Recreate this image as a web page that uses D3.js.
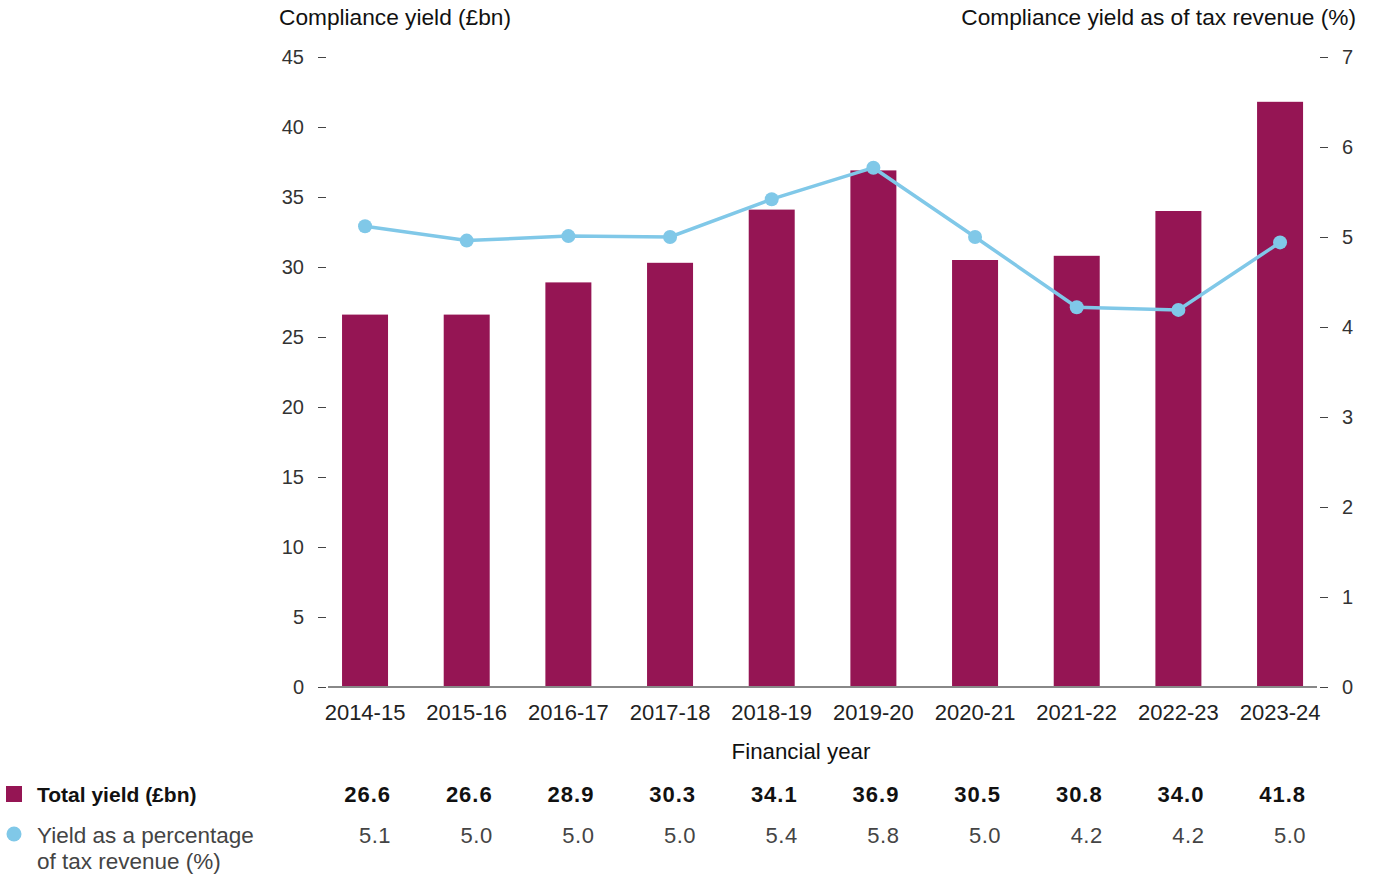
<!DOCTYPE html>
<html>
<head>
<meta charset="utf-8">
<script src="https://cdn.jsdelivr.net/npm/d3@7"></script>
<style>
  body { margin: 0; background: #fff; }
  text { font-family: "Liberation Sans", Arial, sans-serif; }
</style>
</head>
<body>
<script>
// data
var years = ["2014-15", "2015-16", "2016-17", "2017-18", "2018-19", "2019-20", "2020-21", "2021-22", "2022-23", "2023-24"];
var totalYield = [26.6, 26.6, 28.9, 30.3, 34.1, 36.9, 30.5, 30.8, 34.0, 41.8];
var yieldPct = [5.12, 4.96, 5.01, 5.0, 5.42, 5.77, 5.0, 4.22, 4.19, 4.94];
var yieldLabels = ["26.6", "26.6", "28.9", "30.3", "34.1", "36.9", "30.5", "30.8", "34.0", "41.8"];
var pctLabels = ["5.1", "5.0", "5.0", "5.0", "5.4", "5.8", "5.0", "4.2", "4.2", "5.0"];
var leftTicks = [0, 5, 10, 15, 20, 25, 30, 35, 40, 45];
var rightTicks = [0, 1, 2, 3, 4, 5, 6, 7];

var w = 1375, h = 874;
var barColor = "#951554";
var lineColor = "#80c8e8";

var svg = d3.select("body").append("svg")
  .attr("width", w)
  .attr("height", h);

var x = d3.scaleBand()
  .domain(years)
  .range([314.2, 1330.9])
  .paddingInner(0.5476)
  .paddingOuter(0.2738);

var y = d3.scaleLinear().domain([0, 45]).range([687, 57]);
var y2 = d3.scaleLinear().domain([0, 7]).range([687, 57]);

// titles
svg.append("text")
  .attr("x", 279).attr("y", 25)
  .attr("font-size", "22.7px").attr("fill", "#111")
  .text("Compliance yield (£bn)");
svg.append("text")
  .attr("x", 1356).attr("y", 25)
  .attr("text-anchor", "end")
  .attr("font-size", "22.7px").attr("fill", "#111")
  .text("Compliance yield as of tax revenue (%)");

// left axis
var left = svg.append("g").attr("transform", "translate(326,0)")
  .call(d3.axisLeft(y).tickValues(leftTicks).tickSize(8).tickPadding(14));
left.select(".domain").remove();
left.selectAll(".tick line").attr("stroke", "#444");
left.selectAll(".tick text")
  .attr("font-size", "20px").attr("fill", "#333")
  .attr("font-family", "Liberation Sans, Arial, sans-serif");

// right axis
var right = svg.append("g").attr("transform", "translate(1320,0)")
  .call(d3.axisRight(y2).tickValues(rightTicks).tickFormat(d3.format("d")).tickSize(8).tickPadding(14));
right.select(".domain").remove();
right.selectAll(".tick line").attr("stroke", "#444");
right.selectAll(".tick text")
  .attr("font-size", "20px").attr("fill", "#333")
  .attr("font-family", "Liberation Sans, Arial, sans-serif");

// bars
svg.selectAll("rect.bar")
  .data(totalYield)
  .enter()
  .append("rect")
  .attr("class", "bar")
  .attr("x", function(d, i) { return x(years[i]); })
  .attr("y", function(d) { return y(d); })
  .attr("width", x.bandwidth())
  .attr("height", function(d) { return y(0) - y(d); })
  .attr("fill", barColor);

// baseline
svg.append("line")
  .attr("x1", 328).attr("x2", 1317)
  .attr("y1", y(0)).attr("y2", y(0))
  .attr("stroke", "#888").attr("stroke-width", 2);

// x labels
svg.selectAll("text.xlab")
  .data(years)
  .enter()
  .append("text")
  .attr("class", "xlab")
  .attr("x", function(d) { return x(d) + x.bandwidth() / 2; })
  .attr("y", 720)
  .attr("text-anchor", "middle")
  .attr("font-size", "22px").attr("fill", "#222")
  .text(function(d) { return d; });

svg.append("text")
  .attr("x", 801).attr("y", 759)
  .attr("text-anchor", "middle")
  .attr("font-size", "22.3px").attr("fill", "#111")
  .text("Financial year");

// line
var line = d3.line()
  .x(function(d, i) { return x(years[i]) + x.bandwidth() / 2; })
  .y(function(d) { return y2(d); });

svg.append("path")
  .datum(yieldPct)
  .attr("d", line)
  .attr("fill", "none")
  .attr("stroke", lineColor)
  .attr("stroke-width", 3.5);

svg.selectAll("circle.pt")
  .data(yieldPct)
  .enter()
  .append("circle")
  .attr("class", "pt")
  .attr("cx", function(d, i) { return x(years[i]) + x.bandwidth() / 2; })
  .attr("cy", function(d) { return y2(d); })
  .attr("r", 7)
  .attr("fill", lineColor);

// table / legend
svg.append("rect")
  .attr("x", 6).attr("y", 786).attr("width", 16).attr("height", 16)
  .attr("fill", barColor);
svg.append("text")
  .attr("x", 37).attr("y", 802)
  .attr("font-size", "21px").attr("font-weight", "bold").attr("fill", "#111")
  .text("Total yield (£bn)");
svg.append("circle")
  .attr("cx", 14).attr("cy", 834).attr("r", 7.5)
  .attr("fill", lineColor);
var lab2 = svg.append("text")
  .attr("x", 37).attr("y", 843)
  .attr("font-size", "22.5px").attr("fill", "#444");
lab2.append("tspan").attr("x", 37).attr("y", 843).text("Yield as a percentage");
lab2.append("tspan").attr("x", 37).attr("y", 869).text("of tax revenue (%)");

svg.selectAll("text.v1")
  .data(yieldLabels)
  .enter()
  .append("text")
  .attr("class", "v1")
  .attr("x", function(d, i) { return x(years[i]) + x.bandwidth() / 2 + 26; })
  .attr("y", 802)
  .attr("text-anchor", "end")
  .attr("font-size", "22px").attr("font-weight", "bold").attr("fill", "#111")
  .attr("letter-spacing", "1px")
  .text(function(d) { return d; });

svg.selectAll("text.v2")
  .data(pctLabels)
  .enter()
  .append("text")
  .attr("class", "v2")
  .attr("x", function(d, i) { return x(years[i]) + x.bandwidth() / 2 + 26; })
  .attr("y", 843)
  .attr("text-anchor", "end")
  .attr("font-size", "22px").attr("fill", "#444")
  .attr("letter-spacing", "0.5px")
  .text(function(d) { return d; });
</script>
</body>
</html>
